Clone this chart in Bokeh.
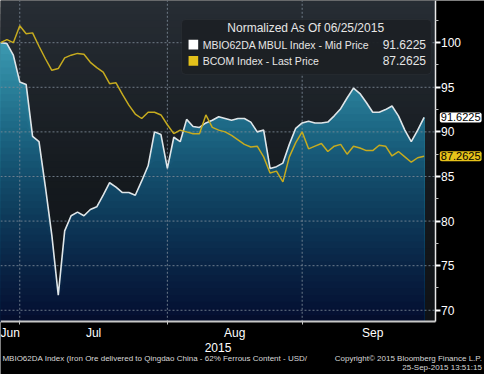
import numpy as np
import pandas as pd
from bokeh.plotting import figure
from bokeh.models import Range1d, FixedTicker, Label, BoxAnnotation
from bokeh.embed import file_html
from bokeh.resources import INLINE

# ---------------- data ----------------
start_date = "2015-06-25"
end_date = "2015-09-25"
month_names = ["Jun", "Jul", "Aug", "Sep"]

mbio = [100.0, 99.9, 98.6, 95.6, 95.3, 89.5, 88.9, 83.8, 78.4, 71.7,
        78.9, 80.6, 81.0, 80.6, 81.3, 81.6, 82.9, 84.3, 83.8, 83.2,
        83.2, 82.9, 84.5, 86.2, 90.0, 89.7, 85.9, 89.4, 88.9, 91.4,
        90.6, 90.5, 91.0, 91.3, 91.7, 91.5, 91.3, 91.5, 91.5, 91.1,
        90.0, 90.2, 85.9, 86.1, 86.5, 88.6, 90.4, 91.0, 91.2, 91.0,
        91.0, 91.1, 91.8, 92.6, 93.8, 94.9, 94.3, 93.3, 92.2, 92.2,
        92.5, 92.9, 91.8, 90.2, 88.9, 90.2, 91.6225]

bcom = [100.0, 100.35, 100.0, 101.9, 101.0, 101.1, 99.6, 98.2, 96.9, 97.1,
        98.3, 98.6, 98.8, 98.7, 97.8, 97.2, 96.7, 95.4, 95.5, 94.2,
        93.0, 92.0, 91.5, 92.2, 92.2, 91.9, 90.8, 89.8, 90.2, 90.0,
        89.8, 89.8, 91.9, 90.5, 90.2, 90.0, 89.6, 89.1, 88.6, 88.3,
        88.4, 87.2, 85.4, 85.6, 84.4, 87.2, 88.8, 90.0, 88.1, 88.4,
        88.7, 87.8, 88.4, 88.6, 87.5, 88.4, 88.2, 87.9, 87.9, 88.5,
        88.4, 87.3, 87.8, 87.2, 86.6, 87.1, 87.2625]

legend_title = "Normalized As Of 06/25/2015"
series_names = ["MBIO62DA MBUL Index - Mid Price", "BCOM Index - Last Price"]
last_values = ["91.6225", "87.2625"]
y_ticks = [70, 75, 80, 85, 90, 95, 100]
y_minor = [72.5, 77.5, 82.5, 87.5, 92.5, 97.5, 102.5]
footer_left = "MBIO62DA Index (Iron Ore delivered to Qingdao China - 62% Ferrous Content - USD/"
footer_right1 = "Copyright\u00a9 2015 Bloomberg Finance L.P."
footer_right2 = "25-Sep-2015 13:51:15"
axis_year = "2015"

# ---------------- derived x positions (trading-day index) ----------------
dates = pd.bdate_range(start_date, end_date)
idx = np.arange(len(dates), dtype=float)
months = dates.month.values
last_idx = [int(np.where(months == m)[0][-1]) for m in sorted(set(months))]
boundaries = last_idx[:-1]
centers = []
prev = 0
for k, m_last in enumerate(last_idx):
    if k == len(last_idx) - 1:
        mstart = dates[m_last].replace(day=1)
        full = len(pd.bdate_range(mstart, mstart + pd.offsets.MonthEnd(0)))
        centers.append((prev + prev + full) / 2.0)
    else:
        centers.append((prev + m_last) / 2.0)
    prev = m_last

mbio_a = np.array(mbio)
bcom_a = np.array(bcom)

# plot-area extent (data units) and whole-canvas extent
PX0, PX1 = 0.0, 67.7
PY0, PY1 = 68.71, 104.73
CX1 = 75.41
CY0 = 62.8

FONT = "Liberation Sans"

p = figure(width=484, height=374, x_range=Range1d(PX0, CX1), y_range=Range1d(CY0, PY1),
           output_backend="svg", toolbar_location=None, y_axis_location="right",
           min_border_left=0, min_border_top=0, min_border_right=0, min_border_bottom=0)
p.background_fill_color = "#000000"
p.border_fill_color = "#000000"
p.outline_line_color = None
p.xgrid.visible = False
p.ygrid.visible = False

# ---------------- gradient fills ----------------
def lerp_colors(stops, v):
    vs = [s[0] for s in stops]
    cols = [s[1] for s in stops]
    rgb = np.array([[int(c[i:i + 2], 16) for i in (1, 3, 5)] for c in cols], dtype=float)
    out = [np.interp(v, vs, rgb[:, j]) for j in range(3)]
    return "#%02x%02x%02x" % tuple(int(round(o)) for o in out)

bg_stops = [(68.7, "#0f1216"), (85, "#151a1f"), (104.7, "#272d34")]
teal_stops = [(68.7, "#040c2a"), (70, "#051234"), (75, "#092445"), (80, "#0d3858"),
              (85, "#134d6c"), (90, "#1c6683"), (95, "#2a809a"), (100, "#3c99b1"), (104.7, "#4aa8c0")]

nb = 48
edges = np.linspace(PY0, PY1, nb + 1)
for k in range(nb - 1, -1, -1):
    lo, hi = edges[k], edges[k + 1]
    c = lerp_colors(bg_stops, (lo + hi) / 2)
    p.quad(left=PX0, right=PX1, bottom=PY0, top=hi, fill_color=c, line_color=None)
for k in range(nb - 1, -1, -1):
    lo, hi = edges[k], edges[k + 1]
    c = lerp_colors(teal_stops, (lo + hi) / 2)
    top = np.clip(mbio_a, PY0, hi)
    p.varea(x=idx, y1=np.full_like(idx, PY0), y2=top, fill_color=c)

# ---------------- grid lines (within plot area) ----------------
GRID = "#7d8a96"
p.segment(x0=PX0, x1=PX1, y0=y_ticks, y1=y_ticks, line_color=GRID, line_dash="2 2",
          line_width=1, line_alpha=0.85)
p.segment(x0=boundaries, x1=boundaries, y0=PY0, y1=PY1, line_color=GRID, line_dash="2 2",
          line_width=1, line_alpha=0.85)

# ---------------- lines ----------------
p.line(idx, mbio_a, line_color="#dfe5e8", line_width=1.6)
p.line(idx, bcom_a, line_color="#c6ab1f", line_width=1.5)

# ---------------- axes ----------------
xa = p.xaxis[0]
xa.fixed_location = PY0
xa.bounds = (PX0, PX1)
xa.ticker = FixedTicker(ticks=centers, minor_ticks=boundaries)
xa.major_label_overrides = {c: n for c, n in zip(centers, month_names)}
xa.major_tick_line_color = None
xa.major_tick_in = 0
xa.major_tick_out = 0
xa.minor_tick_line_color = "#c8c8c8"
xa.minor_tick_in = 0
xa.minor_tick_out = 3
xa.axis_line_color = "#c8c8c8"
xa.axis_line_width = 2
xa.major_label_text_color = "#ffffff"
xa.major_label_text_font = FONT
xa.major_label_text_font_size = "12px"
xa.major_label_standoff = 1
xa.axis_label = axis_year
xa.axis_label_text_color = "#ffffff"
xa.axis_label_text_font = FONT
xa.axis_label_text_font_style = "normal"
xa.axis_label_text_font_size = "12px"
xa.axis_label_standoff = 0

ya = p.yaxis[0]
ya.fixed_location = PX1
ya.bounds = (PY0, PY1)
ya.ticker = FixedTicker(ticks=y_ticks, minor_ticks=y_minor)
ya.axis_line_color = "#e8e8e8"
ya.axis_line_width = 1.5
ya.major_tick_line_color = "#ffffff"
ya.major_tick_line_width = 2
ya.major_tick_in = 0
ya.major_tick_out = 5
ya.minor_tick_line_color = "#bbbbbb"
ya.minor_tick_in = 0
ya.minor_tick_out = 3
ya.major_label_text_color = "#ffffff"
ya.major_label_text_font = FONT
ya.major_label_text_font_size = "12px"
ya.major_label_standoff = 1

# ---------------- legend box ----------------
p.add_layout(BoxAnnotation(left=28.2, right=67.1, bottom=96.45, top=102.6,
                           fill_color="#1c2024", fill_alpha=0.96, line_color="#3a4046",
                           line_width=1, border_radius=4, level="annotation"))
p.add_layout(Label(x=47.6, y=101.6, text=legend_title, text_align="center", text_baseline="middle",
                   text_color="#e6e6e6", text_font=FONT, text_font_size="12px", level="annotation"))
sq_colors = ["#ffffff", "#e3c11b"]
row_y = [99.78, 97.96]
for name, val, sc, ry in zip(series_names, last_values, sq_colors, row_y):
    p.add_layout(BoxAnnotation(left=29.3, right=30.8, bottom=ry - 0.55, top=ry + 0.55,
                               fill_color=sc, fill_alpha=1, line_color=None, level="annotation"))
    p.add_layout(Label(x=31.5, y=ry, text=name, text_align="left", text_baseline="middle",
                       text_color="#e6e6e6", text_font=FONT, text_font_size="10.5px", level="annotation"))
    p.add_layout(Label(x=66.3, y=ry, text=val, text_align="right", text_baseline="middle",
                       text_color="#e6e6e6", text_font=FONT, text_font_size="12px", level="annotation"))

# ---------------- last value tags ----------------
for val, yv, bgc in zip(last_values, [mbio[-1], bcom[-1]], ["#ffffff", "#e6c21a"]):
    p.add_layout(Label(x=68.45, y=yv, text=val, text_align="left", text_baseline="middle",
                       text_color="#000000", text_font=FONT, text_font_size="11px",
                       background_fill_color=bgc, padding=1, border_radius=2, level="annotation"))

# ---------------- footer ----------------
p.add_layout(Label(x=0.3, y=64.62, text=footer_left, text_align="left", text_baseline="middle",
                   text_color="#d8d8d8", text_font=FONT, text_font_size="8px"))
p.add_layout(Label(x=75.0, y=64.62, text=footer_right1, text_align="right", text_baseline="middle",
                   text_color="#d8d8d8", text_font=FONT, text_font_size="8px"))
p.add_layout(Label(x=75.0, y=63.55, text=footer_right2, text_align="right", text_baseline="middle",
                   text_color="#d8d8d8", text_font=FONT, text_font_size="8px"))

open("out.html", "w").write(file_html(p, INLINE))
